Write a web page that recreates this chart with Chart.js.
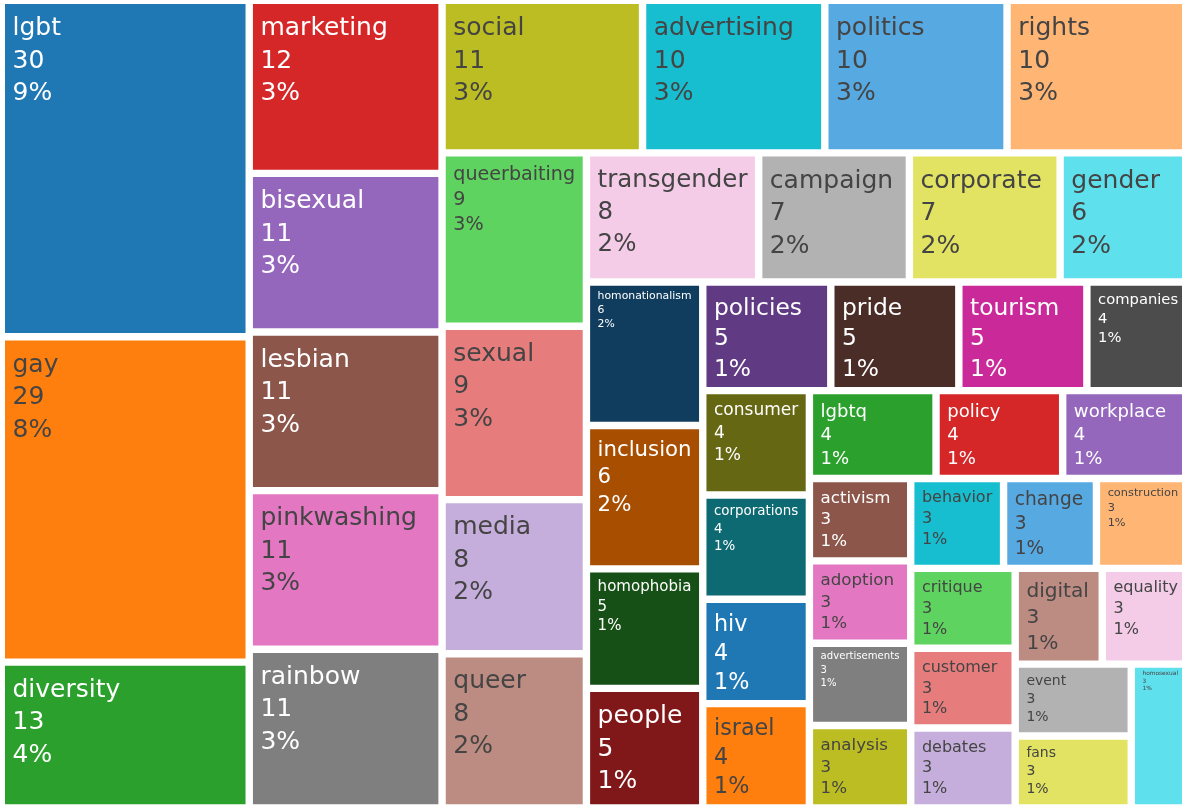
<!DOCTYPE html>
<html>
<head>
<meta charset="utf-8">
<script src="https://cdn.jsdelivr.net/npm/chart.js@4.4.1/dist/chart.umd.min.js"></script>
<style>
  html, body { margin: 0; padding: 0; background: #ffffff; overflow: hidden; }
  #wrap { width: 1182px; height: 807px; position: relative; }
</style>
</head>
<body>
<div id="wrap"><canvas id="chart"></canvas></div>
<script>
// ---------------- data ----------------
const categories = ['lgbt','gay','diversity','marketing','bisexual','lesbian','pinkwashing','rainbow',
  'social','advertising','politics','rights','queerbaiting','sexual','media','queer','transgender',
  'campaign','corporate','gender','homonationalism','inclusion','homophobia','people','policies',
  'pride','tourism','companies','consumer','corporations','hiv','israel','lgbtq','policy','workplace',
  'activism','adoption','advertisements','analysis','behavior','change','construction','critique',
  'customer','debates','digital','equality','event','fans','homosexual'];
const counts = [30,29,13,12,11,11,11,11,11,10,10,10,9,9,8,8,8,7,7,6,6,6,5,5,5,5,5,4,4,4,4,4,4,4,4,
  3,3,3,3,3,3,3,3,3,3,3,3,3,3,3];
const baseColors = ['#1f77b4','#ff7f0e','#2ca02c','#d62728','#9467bd','#8c564b','#e377c2','#7f7f7f','#bcbd22','#17becf'];

// ---------------- colour helpers (plotly-style extended colorway) ----------------
function hexToRgb(h){ h=h.replace('#',''); return [0,2,4].map(i=>parseInt(h.substr(i,2),16)); }
function rgbToHsl(r,g,b){ r/=255; g/=255; b/=255; const mx=Math.max(r,g,b), mn=Math.min(r,g,b); let h=0,s=0; const l=(mx+mn)/2;
  if(mx!==mn){ const d=mx-mn; s=l>0.5?d/(2-mx-mn):d/(mx+mn);
    if(mx===r) h=(g-b)/d+(g<b?6:0); else if(mx===g) h=(b-r)/d+2; else h=(r-g)/d+4; h/=6; }
  return [h,s,l]; }
function hue2rgb(p,q,t){ if(t<0)t+=1; if(t>1)t-=1; if(t<1/6)return p+(q-p)*6*t; if(t<1/2)return q; if(t<2/3)return p+(q-p)*(2/3-t)*6; return p; }
function hslToRgb(h,s,l){ if(s===0){ return [l,l,l].map(v=>Math.round(v*255)); }
  const q=l<0.5?l*(1+s):l+s-l*s, p=2*l-q; return [hue2rgb(p,q,h+1/3),hue2rgb(p,q,h),hue2rgb(p,q,h-1/3)].map(v=>Math.round(v*255)); }
function shiftL(hex, amt){ const [r,g,b]=hexToRgb(hex); const [h,s,l]=rgbToHsl(r,g,b);
  const nl=Math.min(1,Math.max(0,l+amt/100)); const c=hslToRgb(h,s,nl);
  return '#'+c.map(v=>v.toString(16).padStart(2,'0')).join(''); }
const extendedColors = baseColors.concat(baseColors.map(c=>shiftL(c,20)), baseColors.map(c=>shiftL(c,-20)));
const cellColors = categories.map((_,i)=>extendedColors[i % extendedColors.length]);
function textColorFor(hex){ const [r,g,b]=hexToRgb(hex); return (r*299+g*587+b*114)/1000 < 128 ? '#ffffff' : '#444444'; }

// ---------------- squarified layout (d3 squarify, ratio 1) in data units ----------------
const REGION_W = 1188, REGION_H = 807.6;
function squarify(values, x0, y0, x1, y1){
  const out = new Array(values.length);
  let value = values.reduce((a,b)=>a+b,0);
  let i0 = 0, i1 = 0; const n = values.length;
  while(i0 < n){
    const dx = x1-x0, dy = y1-y0;
    let sum = values[i1++];
    let minV = sum, maxV = sum;
    const alpha = Math.max(dy/dx, dx/dy) / value;
    let beta = sum*sum*alpha;
    let minRatio = Math.max(maxV/beta, beta/minV);
    for(; i1 < n; ++i1){
      const v = values[i1];
      sum += v; if(v<minV) minV=v; if(v>maxV) maxV=v;
      beta = sum*sum*alpha;
      const r = Math.max(maxV/beta, beta/minV);
      if(r > minRatio){ sum -= v; break; }
      minRatio = r;
    }
    if(dx < dy){
      const ny = y0 + dy*sum/value; let x = x0;
      for(let i=i0;i<i1;i++){ const w=(x1-x0)*values[i]/sum; out[i]={x0:x,x1:x+w,y0:y0,y1:ny}; x+=w; }
      y0 = ny;
    } else {
      const nx = x0 + dx*sum/value; let y = y0;
      for(let i=i0;i<i1;i++){ const h=(y1-y0)*values[i]/sum; out[i]={x0:x0,x1:nx,y0:y,y1:y+h}; y+=h; }
      x0 = nx;
    }
    value -= sum; i0 = i1;
  }
  return out;
}
const total = counts.reduce((a,b)=>a+b,0);
const layout = squarify(counts, 0, 0, REGION_W, REGION_H);
const cells = layout.map((r,i)=>({ x:(r.x0+r.x1)/2, y:(r.y0+r.y1)/2, x0:r.x0, x1:r.x1, y0:r.y0, y1:r.y1,
  label: categories[i], v: counts[i], pct: Math.round(counts[i]/total*100)+'%' }));

// ---------------- custom Chart.js controller drawing bar elements as tiles ----------------
const GAP = 3.7;
class TreemapLiteController extends Chart.DatasetController {
  update(mode){ const meta=this._cachedMeta; this.updateElements(meta.data, 0, meta.data.length, mode); }
  updateElements(elements, start, count, mode){
    const meta = this._cachedMeta, xs = meta.xScale, ys = meta.yScale;
    const data = this.getDataset().data;
    for(let i=start;i<start+count;i++){
      const d = data[i];
      const a = xs.getPixelForValue(d.x0), b = xs.getPixelForValue(d.x1);
      const c = ys.getPixelForValue(d.y0), e = ys.getPixelForValue(d.y1);
      const left = Math.min(a,b)+GAP, right = Math.max(a,b)-GAP;
      const top = Math.min(c,e)+GAP, bottom = Math.max(c,e)-GAP;
      this.updateElement(elements[i], i, {
        x:(left+right)/2, y:top, base:bottom, width:right-left, height:bottom-top,
        horizontal:false, borderSkipped:{}, inflateAmount:0,
        options:this.resolveDataElementOptions(i, mode)
      }, mode);
    }
  }
}
TreemapLiteController.id = 'treemapLite';
TreemapLiteController.defaults = { datasetElementType:false, dataElementType:'bar' };
TreemapLiteController.overrides = { scales:{ x:{type:'linear'}, y:{type:'linear'} } };
Chart.register(TreemapLiteController);

// ---------------- labels plugin ----------------
const FONT = '"DejaVu Sans", Verdana, sans-serif';
const MAX_FS = 25;
const tileLabels = {
  id:'tileLabels',
  afterDatasetsDraw(chart){
    const ctx = chart.ctx; const meta = chart.getDatasetMeta(0);
    const data = chart.data.datasets[0].data;
    ctx.save();
    meta.data.forEach((el,i)=>{
      const p = el.getProps(['x','y','base','width'], true);
      const left = p.x - p.width/2, top = p.y, w = p.width, h = p.base - p.y;
      const d = data[i];
      const lines = [d.label, String(d.v), d.pct];
      ctx.font = '100px ' + FONT;
      const em = Math.max(...lines.map(s=>ctx.measureText(s).width))/100;
      const fs = Math.min(MAX_FS, (w-15)/em, (h-10)/3.9);
      if(fs <= 1) return;
      ctx.font = fs.toFixed(2)+'px ' + FONT;
      ctx.fillStyle = textColorFor(cellColors[i]);
      ctx.textBaseline = 'alphabetic'; ctx.textAlign = 'left';
      lines.forEach((s,k)=>{ ctx.fillText(s, left+7.5, top + 1.24*fs + k*1.3*fs); });
    });
    ctx.restore();
  }
};

new Chart(document.getElementById('chart'), {
  type:'treemapLite',
  data:{ datasets:[{ label:'keywords', data:cells, backgroundColor:cellColors, borderWidth:0 }] },
  options:{
    responsive:true, maintainAspectRatio:false, animation:false, events:[],
    layout:{ padding:0 },
    plugins:{ legend:{display:false}, tooltip:{enabled:false}, title:{display:false} },
    scales:{
      x:{ type:'linear', min:-1.3, max:1180.7, display:false },
      y:{ type:'linear', min:-0.3, max:806.7, reverse:true, display:false }
    }
  },
  plugins:[tileLabels]
});
</script>
</body>
</html>
